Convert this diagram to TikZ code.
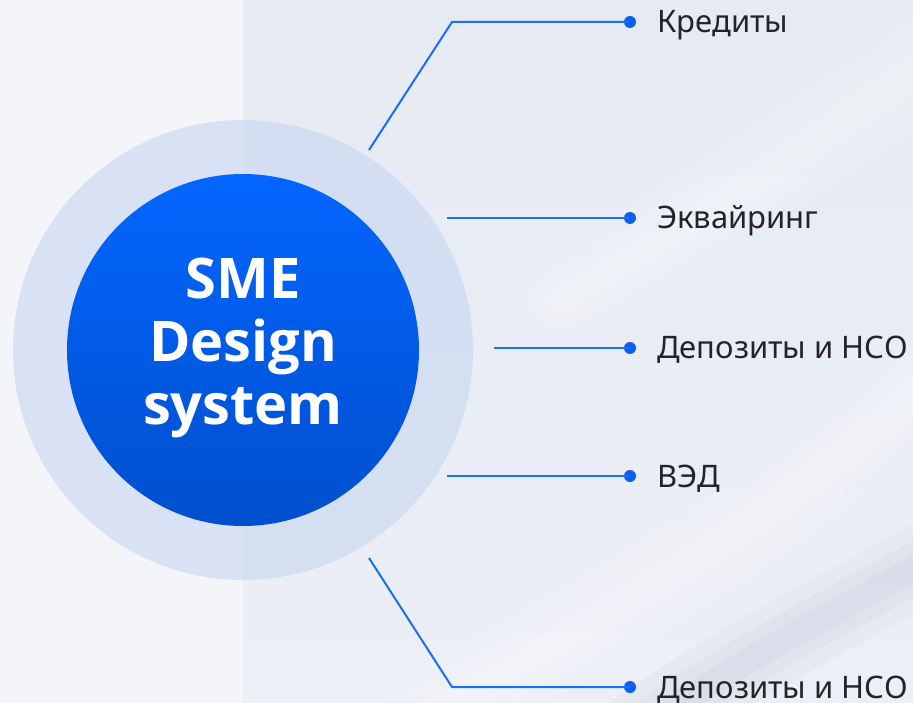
\documentclass[tikz,border=0pt]{standalone}
\usepackage{fontspec}
\setmainfont{Noto Sans}
\newfontfamily\corefont{Open Sans}
\definecolor{bgL}{HTML}{F4F5F8}
\definecolor{bgRtop}{HTML}{E6EAF2}
\definecolor{bgRbot}{HTML}{ECEFF5}
\definecolor{ringc}{HTML}{C4D4F2}
\definecolor{blueT}{HTML}{0266FF}
\definecolor{blueB}{HTML}{014FCC}
\definecolor{linec}{HTML}{1A6EF5}
\definecolor{dotc}{HTML}{0A5FF0}
\definecolor{txt}{HTML}{222428}
\tikzset{
  conn/.style={draw=linec, line width=2pt, line join=miter},
  dotnode/.style={circle, fill=dotc, inner sep=0pt, minimum size=12pt},
  lbl/.style={anchor=base west, inner sep=0pt, text=txt, font=\fontsize{31}{35}\selectfont},
  core/.style={circle, inner sep=0pt, minimum size=352pt, text=white, align=center,
    font=\corefont\fontsize{56}{63}\selectfont\bfseries},
  streak/.style={white, line cap=round}
}
\begin{document}
\begin{tikzpicture}[x=1pt,y=-1pt]
\useasboundingbox (0,0) rectangle (913,703);
% backgrounds
\fill[bgL] (0,0) rectangle (243,703);
\shade[top color=bgRtop, bottom color=bgRbot] (243,0) rectangle (913,703);
\begin{scope}
\clip (243,0) rectangle (913,703);
% soft silk highlights
\foreach \w/\o in {90/0.10,60/0.12,30/0.15}{
  \draw[streak, line width=\w pt, opacity=\o] (420,720) .. controls (600,620) and (780,520) .. (930,380);
  \draw[streak, line width=\w pt, opacity=\o] (560,300) .. controls (700,220) and (820,140) .. (930,60);
}
\foreach \w/\o in {80/0.06,50/0.07,25/0.08}{
  \draw[black!60!blue!40, line width=\w pt, opacity=\o, line cap=round] (640,730) .. controls (740,660) and (840,610) .. (930,560);
}
\end{scope}
% circles
\fill[ringc, opacity=0.55] (243,350) circle (230);
\shade[top color=blueT, bottom color=blueB] (243,350) circle (176);
\node[core] (core) at (243,348) {SME\\Design\\system};
% connector anchors
\coordinate (s1) at (369,150);
\coordinate (c1) at (452,22);
\coordinate (s2) at (447,218);
\coordinate (s3) at (494,348);
\coordinate (s4) at (447,476);
\coordinate (s5) at (369,558);
\coordinate (c5) at (452,687);
% dots
\node[dotnode] (d1) at (630,22) {};
\node[dotnode] (d2) at (630,218) {};
\node[dotnode] (d3) at (630,348) {};
\node[dotnode] (d4) at (630,476) {};
\node[dotnode] (d5) at (630,687) {};
% connectors
\draw[conn] (s1) -- (c1) -- (d1.center);
\draw[conn] (s2) -- (d2.center);
\draw[conn] (s3) -- (d3.center);
\draw[conn] (s4) -- (d4.center);
\draw[conn] (s5) -- (c5) -- (d5.center);
% labels
\node[lbl] (l1) at (657,33) {Кредиты};
\node[lbl] (l2) at (657,229) {Эквайринг};
\node[lbl] (l3) at (657,359) {Депозиты и НСО};
\node[lbl] (l4) at (657,487) {ВЭД};
\node[lbl] (l5) at (657,698) {Депозиты и НСО};
\end{tikzpicture}
\end{document}
